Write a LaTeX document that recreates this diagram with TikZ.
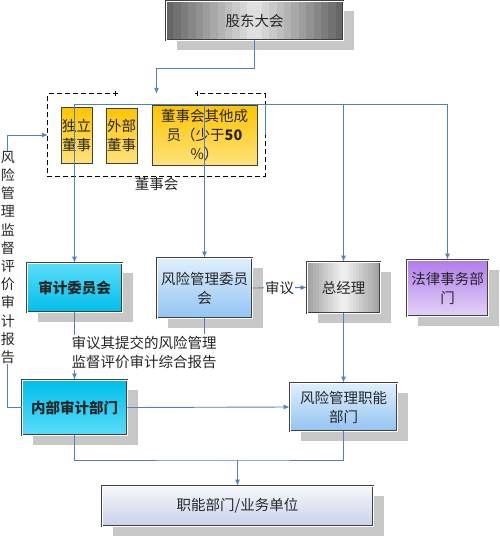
\documentclass[tikz,border=0pt]{standalone}
\usepackage{fontspec}
\setmainfont{Noto Sans CJK SC}
\usetikzlibrary{positioning,arrows.meta,shadows,calc}
\definecolor{linkblue}{HTML}{4F81BD}
\definecolor{goldtop}{HTML}{FFC400}
\definecolor{goldbot}{HTML}{FFE27A}
\definecolor{cyantop}{HTML}{5ADCFA}
\definecolor{cyanbot}{HTML}{00BFEA}
\definecolor{skytop}{HTML}{E0EFFD}
\definecolor{skybot}{HTML}{92C4F3}
\definecolor{lilac}{HTML}{B07CEA}
\definecolor{lilaclight}{HTML}{E2D2F8}
\definecolor{mist}{HTML}{C9D1EA}
\definecolor{steeledge}{HTML}{666666}
\definecolor{steelmid}{HTML}{E4E4E4}
\definecolor{silveredge}{HTML}{A2A2A2}
\definecolor{silvermid}{HTML}{F2F2F2}

\begin{document}
\begin{tikzpicture}[x=1pt,y=-1pt,
    box/.style={draw=black!75, double=white, double distance=0.9pt, line width=0.9pt,
        inner sep=1pt, align=center, text=black!85, font=\fontsize{14.5pt}{19pt}\selectfont,
        drop shadow={shadow xshift=11pt, shadow yshift=-10pt, fill=black!22, opacity=1}},
    metal/.style n args={2}{fill=#2, path picture={
        \foreach \i in {0,...,23}{
            \pgfmathsetmacro\m{100*abs(\i-11.5)/11.5}
            \fill[color=#1!\m!#2] ($(path picture bounding box.south west)!\i/24!(path picture bounding box.south east)$)
                rectangle ($(path picture bounding box.north west)!{(\i+1.1)/24}!(path picture bounding box.north east)$);
        }}},
    member/.style={draw=black!75, line width=0.7pt, inner sep=1pt, align=center,
        text=black!85, font=\fontsize{14.5pt}{19pt}\selectfont,
        top color=goldtop, bottom color=goldbot},
    txt/.style={fill=white, inner sep=1pt, text=black!85, font=\fontsize{14.5pt}{19pt}\selectfont},
    link/.style={draw=linkblue, line width=0.9pt},
    arr/.style={link, -{Latex[length=6pt,width=5pt]}}]
            \useasboundingbox (0,0) rectangle (500,538);
            \node[box, minimum width=177pt, minimum height=39pt, metal={steeledge}{steelmid}] (gd) at (254.5,20.5) {股东大会};
            \node[minimum width=217pt, minimum height=82pt, inner sep=0pt] (dsh) at (156.5,135) {};
            \draw[dash pattern=on 5pt off 3pt, line width=0.8pt] ([xshift=70pt]dsh.north west) -- (dsh.north west) -- (dsh.south west)
                -- (dsh.south east) -- (dsh.north east) -- ([xshift=-70pt]dsh.north east);
            \draw[line width=0.6pt] ([xshift=67pt,yshift=3pt]dsh.north west) -- ++(0,5);
            \draw[line width=0.6pt] ([xshift=-68pt,yshift=3pt]dsh.north east) -- ++(0,5);
            \node[txt, fill=none] (dshlbl) [below=0pt of dsh] {董事会};
            \node[member, minimum width=31pt, minimum height=56pt] (dl) at (76.5,135) {独立\\董事};
            \node[member, minimum width=31pt, minimum height=55pt] (wb) at (121.5,135.5) {外部\\董事};
            \node[member, minimum width=105pt, minimum height=60pt] (qt) at (204.5,135) {董事会其他成\\员（少于\textbf{50}\\\%）};
            \node[box, minimum width=95pt, minimum height=49pt, top color=cyantop, bottom color=cyanbot] (sj) at (74.5,287.5) {\textbf{审计委员会}};
            \node[box, minimum width=95pt, minimum height=60pt, top color=skytop, bottom color=skybot] (fx) at (204.5,288) {风险管理委员\\会};
            \node[box, minimum width=73pt, minimum height=51pt, metal={silveredge}{silvermid}] (zjl) at (343.5,287.5) {总经理};
            \node[box, minimum width=81pt, minimum height=56pt, top color=lilac, bottom color=lilaclight] (fl) at (447.5,288) {法律事务部\\门};
            \node[box, minimum width=105pt, minimum height=55pt, top color=cyanbot, bottom color=cyantop] (nb) at (74.5,407.5) {\textbf{内部审计部门}};
            \node[box, minimum width=107pt, minimum height=48pt, top color=skytop, bottom color=skybot] (fz) at (343.5,407) {风险管理职能\\部门};
            \node[box, minimum width=271pt, minimum height=40pt, top color=white!85!mist, bottom color=mist] (zn) at (237.5,506) {职能部门/业务单位};
            \coordinate (bus) at (74,104);
            \coordinate (j) at (237.5,460);
            \draw[arr] (gd.south) -- ++(0,28) -| (dsh.north);
            \draw[link] (dsh.east) |- (bus);
            \draw[link] (dsh.east) |- (fl.north |- bus);
            \draw[arr] (sj.north |- bus) -- (sj);
            \draw[arr] (fx.north |- bus) -- (fx);
            \draw[arr] (zjl.north |- bus) -- (zjl);
            \draw[arr] (fl.north |- bus) -- (fl);
            \draw[arr] (fx.east) -- node[txt] {审议} (zjl.west);
            \draw[arr] (sj) -- (nb);
            \draw[link] (fx.south) -- ++(0,16);
            \draw[arr] (zjl) -- (fz);
            \draw[arr] (nb.east) -- (fz.west);
            \draw[arr] (nb.west) -- ++(-14,0) |- (dsh.west);
            \draw[link] (nb.south) |- (j) -| (fz.south);
            \draw[arr] (j) -- (zn);
            \node[txt, align=left] (lbl) at (144,352.5) {审议其提交的风险管理\\监督评价审计综合报告};
            \node[txt, inner sep=0pt, align=center, font=\fontsize{14pt}{18.2pt}\selectfont] (rpt) at (8,257.5) {风\\险\\管\\理\\监\\督\\评\\价\\审\\计\\报\\告};
        \end{tikzpicture}
\end{document}
